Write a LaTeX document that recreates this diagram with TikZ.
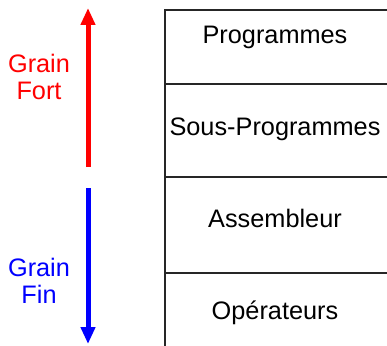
\documentclass[tikz,border=0pt]{standalone}
\usepackage{fontspec}
\setmainfont{Liberation Sans}
\usetikzlibrary{arrows.meta}
\tikzset{
  layer/.style={draw=black!85, line width=2pt, minimum width=226pt, inner sep=0pt, anchor=north west},
  lbl/.style={font=\fontsize{25.3}{27}\selectfont, anchor=base, inner sep=0pt},
  side/.style={font=\fontsize{25.3}{27}\selectfont, align=center, inner sep=0pt, anchor=base},
  bigarrow/.style={line width=5pt, -{Triangle[length=17pt,width=14pt]}}
}
\begin{document}
\begin{tikzpicture}[x=1pt,y=-1pt]
\useasboundingbox (0,0) rectangle (387,345);
\clip (0,0) rectangle (387,345);
% layers
\node[layer, minimum height=74pt] (b1) at (164,9) {};
\node[layer, minimum height=93pt] (b2) at (164,83) {};
\node[layer, minimum height=96pt] (b3) at (164,176) {};
\node[layer, minimum height=90pt] (b4) at (164,272) {};
\node[lbl] (t1) at (275,43) {Programmes};
\node[lbl] (t2) at (275,135) {Sous-Programmes};
\node[lbl] (t3) at (275,227) {Assembleur};
\node[lbl] (t4) at (275,319) {Opérateurs};
% arrows
\coordinate (r0) at (88,167);
\coordinate (r1) at (88,8);
\coordinate (u0) at (88,188);
\coordinate (u1) at (88,344);
\draw[bigarrow, red] (r0) -- (r1);
\draw[bigarrow, blue] (u0) -- (u1);
\node[side, red] (g1) at (39,99) {Grain\\Fort};
\node[side, blue] (g2) at (39,303) {Grain\\Fin};
\end{tikzpicture}
\end{document}
